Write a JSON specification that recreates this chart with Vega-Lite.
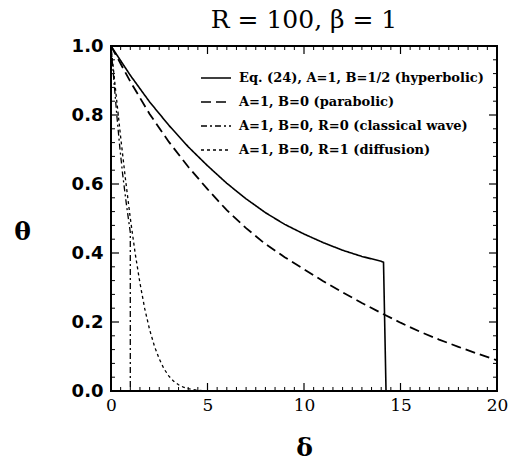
{
  "$schema": "https://vega.github.io/schema/vega-lite/v6.json",
  "width": 386,
  "height": 345,
  "autosize": {"type": "none"},
  "padding": {"left": 111, "top": 46, "right": 15, "bottom": 75},
  "title": {"text": "R = 100, β = 1", "font": "DejaVu Serif", "fontSize": 25, "fontWeight": "normal", "anchor": "middle", "offset": 4, "color": "black"},
  "config": {
    "view": {"stroke": "black", "strokeWidth": 2},
    "axis": {"grid": false, "domain": false, "ticks": false, "labelColor": "black", "titleColor": "black"}
  },
  "datasets": {
    "xmaj": [{"v": 5}, {"v": 10}, {"v": 15}],
    "xmin": [{"v": 0.5}, {"v": 1}, {"v": 1.5}, {"v": 2}, {"v": 2.5}, {"v": 3}, {"v": 3.5}, {"v": 4}, {"v": 4.5}, {"v": 5.5}, {"v": 6}, {"v": 6.5}, {"v": 7}, {"v": 7.5}, {"v": 8}, {"v": 8.5}, {"v": 9}, {"v": 9.5}, {"v": 10.5}, {"v": 11}, {"v": 11.5}, {"v": 12}, {"v": 12.5}, {"v": 13}, {"v": 13.5}, {"v": 14}, {"v": 14.5}, {"v": 15.5}, {"v": 16}, {"v": 16.5}, {"v": 17}, {"v": 17.5}, {"v": 18}, {"v": 18.5}, {"v": 19}, {"v": 19.5}],
    "ymaj": [{"v": 0.2}, {"v": 0.4}, {"v": 0.6}, {"v": 0.8}],
    "ymin": [{"v": 0.04}, {"v": 0.08}, {"v": 0.12}, {"v": 0.16}, {"v": 0.24}, {"v": 0.28}, {"v": 0.32}, {"v": 0.36}, {"v": 0.44}, {"v": 0.48}, {"v": 0.52}, {"v": 0.56}, {"v": 0.64}, {"v": 0.68}, {"v": 0.72}, {"v": 0.76}, {"v": 0.84}, {"v": 0.88}, {"v": 0.92}, {"v": 0.96}],
    "hyp": [
      {"d": 0, "t": 1.0, "i": 0, "s": "Eq. (24), A=1, B=1/2 (hyperbolic)"},
      {"d": 1, "t": 0.915, "i": 1, "s": "Eq. (24), A=1, B=1/2 (hyperbolic)"},
      {"d": 2, "t": 0.838, "i": 2, "s": "Eq. (24), A=1, B=1/2 (hyperbolic)"},
      {"d": 3, "t": 0.77, "i": 3, "s": "Eq. (24), A=1, B=1/2 (hyperbolic)"},
      {"d": 4, "t": 0.708, "i": 4, "s": "Eq. (24), A=1, B=1/2 (hyperbolic)"},
      {"d": 5, "t": 0.653, "i": 5, "s": "Eq. (24), A=1, B=1/2 (hyperbolic)"},
      {"d": 6, "t": 0.602, "i": 6, "s": "Eq. (24), A=1, B=1/2 (hyperbolic)"},
      {"d": 7, "t": 0.557, "i": 7, "s": "Eq. (24), A=1, B=1/2 (hyperbolic)"},
      {"d": 8, "t": 0.517, "i": 8, "s": "Eq. (24), A=1, B=1/2 (hyperbolic)"},
      {"d": 9, "t": 0.483, "i": 9, "s": "Eq. (24), A=1, B=1/2 (hyperbolic)"},
      {"d": 10, "t": 0.455, "i": 10, "s": "Eq. (24), A=1, B=1/2 (hyperbolic)"},
      {"d": 11, "t": 0.43, "i": 11, "s": "Eq. (24), A=1, B=1/2 (hyperbolic)"},
      {"d": 12, "t": 0.408, "i": 12, "s": "Eq. (24), A=1, B=1/2 (hyperbolic)"},
      {"d": 13, "t": 0.39, "i": 13, "s": "Eq. (24), A=1, B=1/2 (hyperbolic)"},
      {"d": 14, "t": 0.376, "i": 14, "s": "Eq. (24), A=1, B=1/2 (hyperbolic)"},
      {"d": 14.12, "t": 0.373, "i": 15, "s": "Eq. (24), A=1, B=1/2 (hyperbolic)"},
      {"d": 14.25, "t": 0.0, "i": 16, "s": "Eq. (24), A=1, B=1/2 (hyperbolic)"}
    ],
    "par": [
      {"d": 0, "t": 1.0, "i": 0, "s": "A=1, B=0 (parabolic)"},
      {"d": 1, "t": 0.897, "i": 1, "s": "A=1, B=0 (parabolic)"},
      {"d": 2, "t": 0.803, "i": 2, "s": "A=1, B=0 (parabolic)"},
      {"d": 3, "t": 0.722, "i": 3, "s": "A=1, B=0 (parabolic)"},
      {"d": 4, "t": 0.65, "i": 4, "s": "A=1, B=0 (parabolic)"},
      {"d": 5, "t": 0.585, "i": 5, "s": "A=1, B=0 (parabolic)"},
      {"d": 6, "t": 0.524, "i": 6, "s": "A=1, B=0 (parabolic)"},
      {"d": 7, "t": 0.472, "i": 7, "s": "A=1, B=0 (parabolic)"},
      {"d": 8, "t": 0.426, "i": 8, "s": "A=1, B=0 (parabolic)"},
      {"d": 9, "t": 0.388, "i": 9, "s": "A=1, B=0 (parabolic)"},
      {"d": 10, "t": 0.353, "i": 10, "s": "A=1, B=0 (parabolic)"},
      {"d": 11, "t": 0.318, "i": 11, "s": "A=1, B=0 (parabolic)"},
      {"d": 12, "t": 0.286, "i": 12, "s": "A=1, B=0 (parabolic)"},
      {"d": 13, "t": 0.255, "i": 13, "s": "A=1, B=0 (parabolic)"},
      {"d": 14, "t": 0.226, "i": 14, "s": "A=1, B=0 (parabolic)"},
      {"d": 15, "t": 0.198, "i": 15, "s": "A=1, B=0 (parabolic)"},
      {"d": 16, "t": 0.172, "i": 16, "s": "A=1, B=0 (parabolic)"},
      {"d": 17, "t": 0.149, "i": 17, "s": "A=1, B=0 (parabolic)"},
      {"d": 18, "t": 0.128, "i": 18, "s": "A=1, B=0 (parabolic)"},
      {"d": 19, "t": 0.108, "i": 19, "s": "A=1, B=0 (parabolic)"},
      {"d": 20, "t": 0.089, "i": 20, "s": "A=1, B=0 (parabolic)"}
    ],
    "wav": [
      {"d": 0, "t": 1.0, "i": 0, "s": "A=1, B=0, R=0 (classical wave)"},
      {"d": 0.15, "t": 0.9, "i": 1, "s": "A=1, B=0, R=0 (classical wave)"},
      {"d": 0.3, "t": 0.8, "i": 2, "s": "A=1, B=0, R=0 (classical wave)"},
      {"d": 0.45, "t": 0.71, "i": 3, "s": "A=1, B=0, R=0 (classical wave)"},
      {"d": 0.6, "t": 0.63, "i": 4, "s": "A=1, B=0, R=0 (classical wave)"},
      {"d": 0.8, "t": 0.54, "i": 5, "s": "A=1, B=0, R=0 (classical wave)"},
      {"d": 1.0, "t": 0.46, "i": 6, "s": "A=1, B=0, R=0 (classical wave)"},
      {"d": 1.0, "t": 0.0, "i": 7, "s": "A=1, B=0, R=0 (classical wave)"}
    ],
    "dif": [
      {"d": 0, "t": 1.0, "i": 0, "s": "A=1, B=0, R=1 (diffusion)"},
      {"d": 0.25, "t": 0.866, "i": 1, "s": "A=1, B=0, R=1 (diffusion)"},
      {"d": 0.5, "t": 0.736, "i": 2, "s": "A=1, B=0, R=1 (diffusion)"},
      {"d": 0.75, "t": 0.614, "i": 3, "s": "A=1, B=0, R=1 (diffusion)"},
      {"d": 1.0, "t": 0.501, "i": 4, "s": "A=1, B=0, R=1 (diffusion)"},
      {"d": 1.25, "t": 0.4, "i": 5, "s": "A=1, B=0, R=1 (diffusion)"},
      {"d": 1.5, "t": 0.313, "i": 6, "s": "A=1, B=0, R=1 (diffusion)"},
      {"d": 1.75, "t": 0.238, "i": 7, "s": "A=1, B=0, R=1 (diffusion)"},
      {"d": 2.0, "t": 0.178, "i": 8, "s": "A=1, B=0, R=1 (diffusion)"},
      {"d": 2.25, "t": 0.13, "i": 9, "s": "A=1, B=0, R=1 (diffusion)"},
      {"d": 2.5, "t": 0.093, "i": 10, "s": "A=1, B=0, R=1 (diffusion)"},
      {"d": 2.75, "t": 0.064, "i": 11, "s": "A=1, B=0, R=1 (diffusion)"},
      {"d": 3.0, "t": 0.043, "i": 12, "s": "A=1, B=0, R=1 (diffusion)"},
      {"d": 3.25, "t": 0.028, "i": 13, "s": "A=1, B=0, R=1 (diffusion)"},
      {"d": 3.5, "t": 0.018, "i": 14, "s": "A=1, B=0, R=1 (diffusion)"},
      {"d": 3.75, "t": 0.011, "i": 15, "s": "A=1, B=0, R=1 (diffusion)"},
      {"d": 4.0, "t": 0.007, "i": 16, "s": "A=1, B=0, R=1 (diffusion)"},
      {"d": 4.5, "t": 0.002, "i": 17, "s": "A=1, B=0, R=1 (diffusion)"},
      {"d": 5.0, "t": 0.0005, "i": 18, "s": "A=1, B=0, R=1 (diffusion)"}
    ]
  },
  "layer": [
    {
      "data": {"name": "hyp"},
      "mark": {"type": "line", "color": "black", "strokeWidth": 1.6, "clip": true},
      "encoding": {
        "x": {"field": "d", "type": "quantitative", "scale": {"domain": [0, 20], "nice": false, "zero": false},
              "axis": {"orient": "bottom", "values": [0, 5, 10, 15, 20], "format": "d", "labelPadding": 6, "labelFlush": false,
                       "labelFont": "DejaVu Serif", "labelFontSize": 17, "labelFontWeight": "normal",
                       "title": "δ", "titleFont": "DejaVu Serif", "titleFontSize": 25, "titleFontWeight": "bold",
                       "titleX": 193, "titleY": 56, "titleBaseline": "middle", "titleAlign": "center"}},
        "y": {"field": "t", "type": "quantitative", "scale": {"domain": [0, 1], "nice": false, "zero": false},
              "axis": {"orient": "left", "values": [0, 0.2, 0.4, 0.6, 0.8, 1.0], "format": ".1f", "labelPadding": 8, "labelFlush": false,
                       "labelFont": "DejaVu Sans", "labelFontSize": 18, "labelFontWeight": "bold",
                       "title": "θ", "titleFont": "DejaVu Serif", "titleFontSize": 25, "titleFontWeight": "bold",
                       "titleAngle": 0, "titleX": -89, "titleY": 185, "titleBaseline": "middle", "titleAlign": "center"}},
        "order": {"field": "i", "type": "quantitative"},
        "strokeDash": {"field": "s", "type": "nominal",
          "scale": {"domain": ["Eq. (24), A=1, B=1/2 (hyperbolic)", "A=1, B=0 (parabolic)", "A=1, B=0, R=0 (classical wave)", "A=1, B=0, R=1 (diffusion)"],
                    "range": [[1, 0], [10, 5], [6, 3, 2, 3], [3, 3]]},
          "legend": {"orient": "none", "legendX": 92, "legendY": 19, "title": null, "padding": 0,
                     "symbolType": "M-1.25,0H1.25", "symbolSize": 576, "symbolStrokeWidth": 1.5, "symbolStrokeColor": "black", "symbolFillColor": "transparent",
                     "labelOffset": 10, "labelFont": "DejaVu Serif", "labelFontSize": 13, "labelFontWeight": "bold", "labelColor": "black", "labelLimit": 400, "rowPadding": 4}}
      }
    },
    {
      "data": {"name": "par"},
      "mark": {"type": "line", "color": "black", "strokeWidth": 1.8, "clip": true},
      "encoding": {
        "x": {"field": "d", "type": "quantitative", "axis": null},
        "y": {"field": "t", "type": "quantitative", "axis": null},
        "order": {"field": "i", "type": "quantitative"},
        "strokeDash": {"field": "s", "type": "nominal"}
      }
    },
    {
      "data": {"name": "wav"},
      "mark": {"type": "line", "color": "black", "strokeWidth": 1.3, "clip": true},
      "encoding": {
        "x": {"field": "d", "type": "quantitative", "axis": null},
        "y": {"field": "t", "type": "quantitative", "axis": null},
        "order": {"field": "i", "type": "quantitative"},
        "strokeDash": {"field": "s", "type": "nominal"}
      }
    },
    {
      "data": {"name": "dif"},
      "mark": {"type": "line", "color": "black", "strokeWidth": 1.3, "clip": true},
      "encoding": {
        "x": {"field": "d", "type": "quantitative", "axis": null},
        "y": {"field": "t", "type": "quantitative", "axis": null},
        "order": {"field": "i", "type": "quantitative"},
        "strokeDash": {"field": "s", "type": "nominal"}
      }
    },
    {
      "data": {"name": "xmaj"},
      "mark": {"type": "rule", "color": "black", "strokeWidth": 1.2},
      "encoding": {"x": {"field": "v", "type": "quantitative", "axis": null}, "y": {"datum": 0, "type": "quantitative", "axis": null}, "y2": {"datum": 0.0232}}
    },
    {
      "data": {"name": "xmaj"},
      "mark": {"type": "rule", "color": "black", "strokeWidth": 1.2},
      "encoding": {"x": {"field": "v", "type": "quantitative", "axis": null}, "y": {"datum": 1, "type": "quantitative", "axis": null}, "y2": {"datum": 0.9768}}
    },
    {
      "data": {"name": "xmin"},
      "mark": {"type": "rule", "color": "black", "strokeWidth": 1},
      "encoding": {"x": {"field": "v", "type": "quantitative", "axis": null}, "y": {"datum": 0, "type": "quantitative", "axis": null}, "y2": {"datum": 0.0116}}
    },
    {
      "data": {"name": "xmin"},
      "mark": {"type": "rule", "color": "black", "strokeWidth": 1},
      "encoding": {"x": {"field": "v", "type": "quantitative", "axis": null}, "y": {"datum": 1, "type": "quantitative", "axis": null}, "y2": {"datum": 0.9884}}
    },
    {
      "data": {"name": "ymaj"},
      "mark": {"type": "rule", "color": "black", "strokeWidth": 1.2},
      "encoding": {"y": {"field": "v", "type": "quantitative", "axis": null}, "x": {"datum": 0, "type": "quantitative", "axis": null}, "x2": {"datum": 0.415}}
    },
    {
      "data": {"name": "ymaj"},
      "mark": {"type": "rule", "color": "black", "strokeWidth": 1.2},
      "encoding": {"y": {"field": "v", "type": "quantitative", "axis": null}, "x": {"datum": 20, "type": "quantitative", "axis": null}, "x2": {"datum": 19.585}}
    },
    {
      "data": {"name": "ymin"},
      "mark": {"type": "rule", "color": "black", "strokeWidth": 1},
      "encoding": {"y": {"field": "v", "type": "quantitative", "axis": null}, "x": {"datum": 0, "type": "quantitative", "axis": null}, "x2": {"datum": 0.207}}
    },
    {
      "data": {"name": "ymin"},
      "mark": {"type": "rule", "color": "black", "strokeWidth": 1},
      "encoding": {"y": {"field": "v", "type": "quantitative", "axis": null}, "x": {"datum": 20, "type": "quantitative", "axis": null}, "x2": {"datum": 19.793}}
    }
  ],
  "resolve": {"axis": {"x": "independent", "y": "independent"}}
}
